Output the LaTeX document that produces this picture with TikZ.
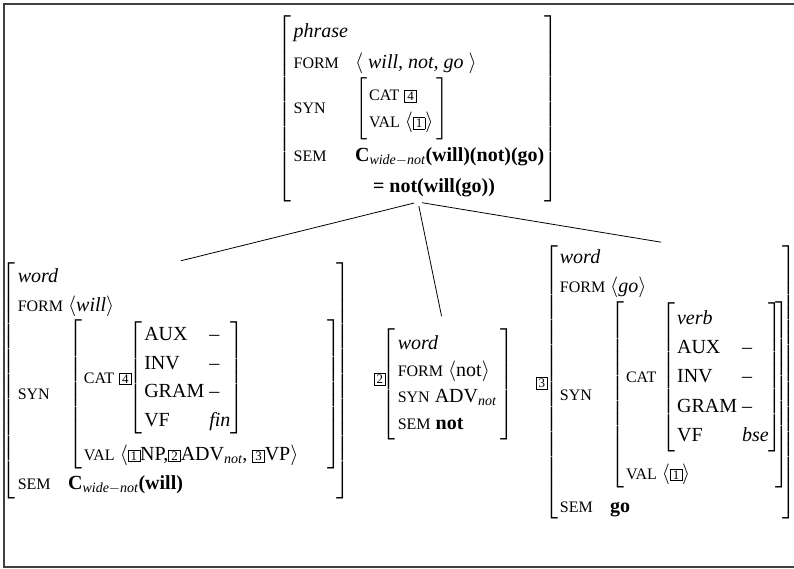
\documentclass[tikz,border=0pt]{standalone}
\usepackage{amsmath}
\usepackage{fontspec}
\setmainfont{Liberation Serif}
\usetikzlibrary{positioning}

\tikzset{
  avm/.style={inner sep=0pt, anchor=north, font=\fontsize{20}{22}\selectfont},
  branch/.style={line width=0.8pt, shorten <=4pt, shorten >=5pt},
  frame/.style={line width=1.4pt, black!75},
}

\newcommand{\feat}[1]{{\fontsize{16}{18}\selectfont #1}}
\newcommand{\tg}[1]{{\setlength{\fboxsep}{1.3pt}\setlength{\fboxrule}{0.6pt}\fbox{\makebox[8.5pt]{\fontsize{13}{13}\selectfont #1}}}}
\newcommand{\cwide}{\textbf{C}$_{\textit{wide}-\textit{not}}$}
\renewcommand{\arraystretch}{1.3}

\begin{document}
\begin{tikzpicture}[x=1pt, y=-1pt]
\useasboundingbox (0,0) rectangle (794,569);

\draw[frame] (794,4) -| (4,567) -- (794,567);

% mother
\node[avm] (phrase) at (418,15) {\renewcommand{\arraystretch}{1.4}$\left[\begin{tabular}{@{\hspace{2pt}}l@{\hspace{7pt}}l@{}}
  \textit{phrase} & \\
  \feat{FORM} & $\langle$ \textit{will, not, go} $\rangle$ \\
  \feat{SYN} & \renewcommand{\arraystretch}{1.25}$\left[\begin{tabular}{@{\hspace{2pt}}l@{\hspace{3pt}}}
      \feat{CAT} \tg{4} \\
      \feat{VAL} $\langle$\tg{1}$\rangle$
    \end{tabular}\right]$ \\
  \feat{SEM} & \cwide\textbf{(will)(not)(go)} \\
  & \hspace{0.9em}\textbf{= not(will(go))}
\end{tabular}\right]$};

% daughters
\node[avm] (will) at (176,262) {$\left[\begin{tabular}{@{\hspace{2pt}}l@{\hspace{5pt}}l@{}}
  \textit{word} & \\
  \feat{FORM} & $\langle$\textit{will}$\rangle$ \\
  \feat{SYN} & $\left[\begin{tabular}{@{\hspace{2pt}}l@{}}
      \feat{CAT} \tg{4}$\kern-3pt\left[\begin{tabular}{@{\hspace{2pt}}l@{\hspace{5pt}}l@{}}
          AUX & -- \\
          INV & -- \\
          GRAM & -- \\
          VF & \textit{fin}
        \end{tabular}\right]$ \\ \noalign{\vskip 5pt}
      \feat{VAL} $\langle$\tg{1}NP,\tg{2}ADV$_{\textit{not}}$, \tg{3}VP$\rangle$\hspace{29pt}
    \end{tabular}\right]\kern-5pt$ \\
  \feat{SEM} & \cwide\textbf{(will)}
\end{tabular}\right]$};

\node[avm] (not) at (444,328) {\raisebox{5.5pt}{\tg{2}}{\renewcommand{\arraystretch}{1.2}$\kern-4pt\left[\begin{tabular}{@{\hspace{2pt}}l@{\hspace{4pt}}}
  \textit{word} \\
  \feat{FORM} $\langle$not$\rangle$ \\
  \feat{SYN} ADV$_{\textit{not}}$ \\
  \feat{SEM} \textbf{not}
\end{tabular}\right]$}};

\node[avm] (go) at (666,243) {\renewcommand{\arraystretch}{1.33}\tg{3}$\kern-4pt\left[\begin{tabular}{@{\hspace{2pt}}l@{\hspace{5pt}}l@{}}
  \textit{word} & \\
  \feat{FORM} & $\langle$\textit{go}$\rangle$ \\
  \feat{SYN} & $\left[\begin{tabular}{@{\hspace{2pt}}l@{\hspace{5pt}}l@{}}
      \feat{CAT} & $\left[\begin{tabular}{@{\hspace{2pt}}l@{\hspace{5pt}}l@{}}
          \textit{verb} & \\
          AUX & -- \\
          INV & -- \\
          GRAM & -- \\
          VF & \textit{bse}
        \end{tabular}\right]\kern-7pt$ \\ \noalign{\vskip 7pt}
      \multicolumn{2}{@{\hspace{2pt}}l@{}}{\feat{VAL} $\langle$\tg{1}$\rangle$}
    \end{tabular}\right]\kern-7pt$ \\ \noalign{\vskip 4pt}
  \feat{SEM} & \textbf{go}
\end{tabular}\right]$};

\draw[branch] (phrase.south) -- (will.north);
\draw[branch, shorten >=12pt] (phrase.south) -- (not.north);
\draw[branch] (phrase.south) -- (go.north);

\end{tikzpicture}
\end{document}
